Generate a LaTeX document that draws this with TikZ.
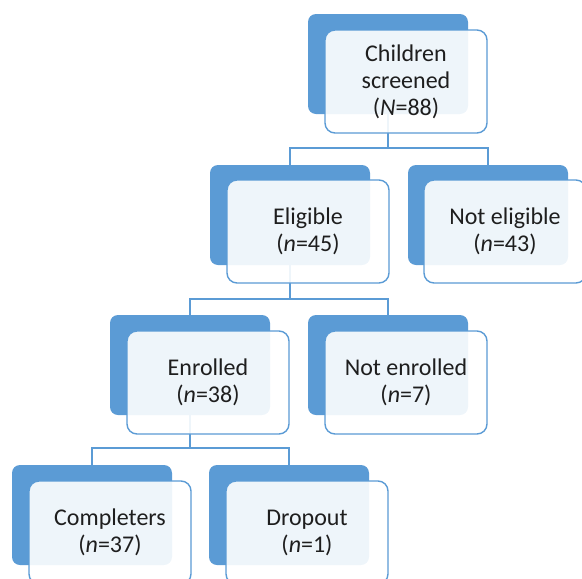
\documentclass[tikz,border=0pt]{standalone}
\usepackage{fontspec}
\setmainfont{Carlito}
\usetikzlibrary{calc}
\definecolor{obl}{RGB}{91,155,213}
\definecolor{txt}{RGB}{30,30,30}
\tikzset{
  backbox/.style={draw=none, fill=obl, rounded corners=8pt, minimum width=160pt, minimum height=100pt, inner sep=0pt, outer sep=0pt, anchor=north west},
  frontbox/.style={draw=obl, line width=1.4pt, fill=white, fill opacity=0.9, text opacity=1, draw opacity=1, rounded corners=10pt, minimum width=162pt, minimum height=103pt, inner sep=0pt, outer sep=0pt, anchor=north west, align=center, text=txt, font=\fontsize{24}{27}\selectfont},
  conn/.style={draw=obl, line width=1.4pt}
}
\begin{document}
\begin{tikzpicture}[x=1pt,y=-1pt]
\useasboundingbox (0,0) rectangle (582,579);
\clip (0,0) rectangle (582,579);
% back boxes
\node[backbox] (c0b) at (308,14) {};
\node[backbox] (e1b) at (210,165) {};
\node[backbox] (n1b) at (408,165) {};
\node[backbox] (e2b) at (110,315) {};
\node[backbox] (n2b) at (308,315) {};
\node[backbox] (c3b) at (12,465) {};
\node[backbox] (d3b) at (209,465) {};
% bus coordinates
\coordinate (bus1) at (0,148);
\coordinate (bus2) at (0,299);
\coordinate (bus3) at (0,448);
% connectors
\draw[conn] (c0b.south) -- (c0b.south |- bus1);
\draw[conn] (e1b.north) |- (c0b.south |- bus1) -| (n1b.north);
\draw[conn] (e1b.south) -- (e1b.south |- bus2);
\draw[conn] (e2b.north) |- (e1b.south |- bus2) -| (n2b.north);
\draw[conn] (e2b.south) -- (e2b.south |- bus3);
\draw[conn] (c3b.north) |- (e2b.south |- bus3) -| (d3b.north);
% front boxes
\node[frontbox] (c0) at (325,30) {Children\\screened\\(\textit{N}=88)};
\node[frontbox] (e1) at (227,180) {Eligible\\(\textit{n}=45)};
\node[frontbox] (n1) at (424,180) {Not eligible\\(\textit{n}=43)};
\node[frontbox] (e2) at (127,331) {Enrolled\\(\textit{n}=38)};
\node[frontbox] (n2) at (325,331) {Not enrolled\\(\textit{n}=7)};
\node[frontbox] (c3) at (29,481) {Completers\\(\textit{n}=37)};
\node[frontbox] (d3) at (226,481) {Dropout\\(\textit{n}=1)};
\end{tikzpicture}
\end{document}
